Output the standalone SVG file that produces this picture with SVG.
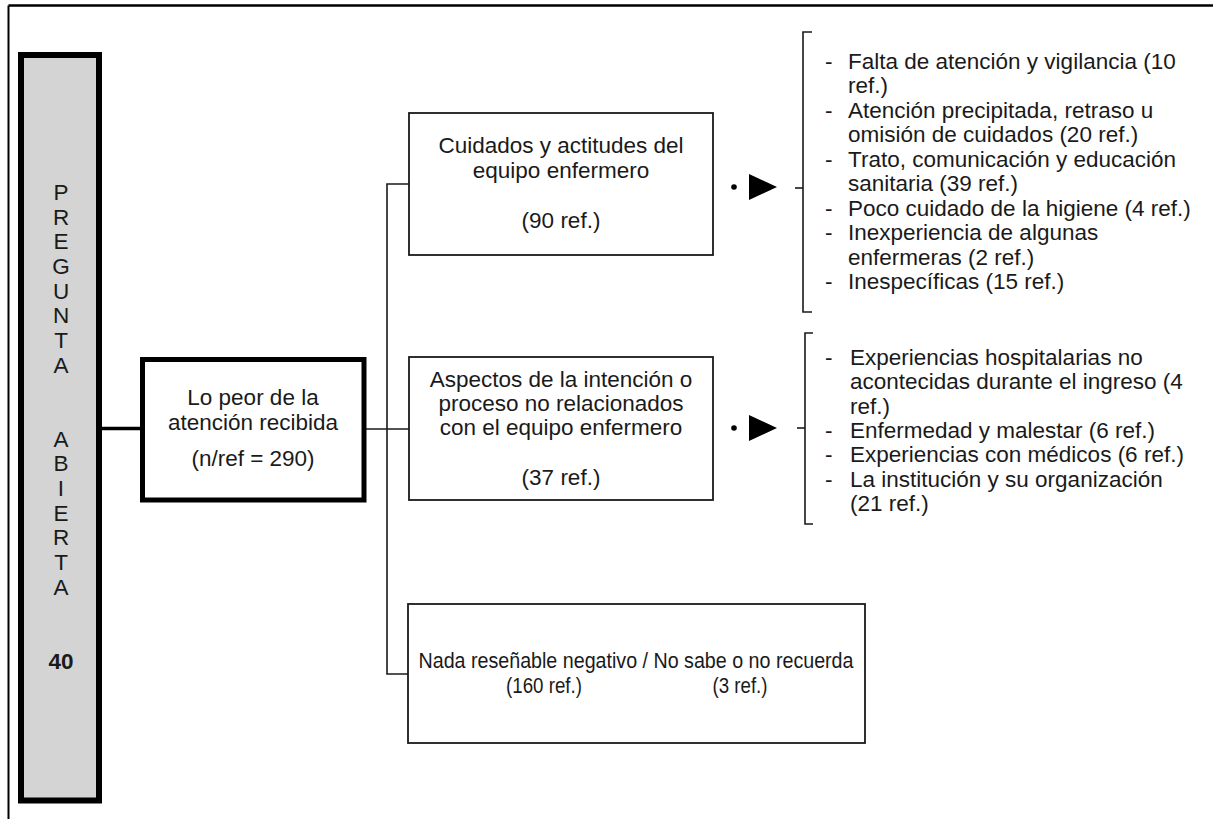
<svg xmlns="http://www.w3.org/2000/svg" width="1213" height="819" viewBox="0 0 1213 819">
  <defs>
    <style>
      .txt { font-family: "Liberation Sans", Arial, Helvetica, sans-serif; font-size: 22.5px; fill: #1a1a1a; }
      .mid { text-anchor: middle; }
      .thin { fill: none; stroke: #1a1a1a; stroke-width: 1.6; }
      .box { fill: #ffffff; stroke: #1a1a1a; stroke-width: 1.8; }
      .heavy { fill: #ffffff; stroke: #000000; stroke-width: 5; }
      .arrowhead { fill: #000000; }
    </style>
  </defs>

  <rect x="0" y="0" width="1213" height="819" fill="#ffffff"/>

  <!-- page frame (top and left rule) -->
  <g id="frame">
    <line x1="8.5" y1="5.5" x2="1213" y2="5.5" stroke="#000" stroke-width="2.5"/>
    <line x1="8.5" y1="5.5" x2="8.5" y2="819" stroke="#000" stroke-width="2"/>
  </g>

  <!-- connectors -->
  <g id="connectors">
    <line x1="102" y1="428.5" x2="142" y2="428.5" stroke="#000" stroke-width="3.5"/>
    <line class="thin" x1="365" y1="429" x2="409" y2="429"/>
    <polyline class="thin" points="409,184 387,184 387,674 409,674"/>
    <!-- pointers towards the detail lists -->
    <circle cx="734" cy="187" r="2.8" fill="#000"/>
    <polygon class="arrowhead" points="749,174 777,187 749,200"/>
    <circle cx="734" cy="428" r="2.8" fill="#000"/>
    <polygon class="arrowhead" points="749,415 777,428 749,441"/>
  </g>

  <!-- vertical question label -->
  <g id="pregunta">
    <rect x="21" y="55" width="78" height="745.5" fill="#d4d4d4" stroke="#000" stroke-width="6"/>
    <g class="txt mid" font-size="21.5">
      <text x="61" y="200">P</text>
      <text x="61" y="224.7">R</text>
      <text x="61" y="249.4">E</text>
      <text x="61" y="274">G</text>
      <text x="61" y="298.7">U</text>
      <text x="61" y="323.4">N</text>
      <text x="61" y="348">T</text>
      <text x="61" y="372.7">A</text>
      <text x="61" y="446.6">A</text>
      <text x="61" y="471.3">B</text>
      <text x="61" y="496">I</text>
      <text x="61" y="520.6">E</text>
      <text x="61" y="545.3">R</text>
      <text x="61" y="570">T</text>
      <text x="61" y="594.6">A</text>
      <text x="61" y="669" font-weight="bold">40</text>
    </g>
  </g>

  <!-- root node -->
  <g id="lo-peor">
    <rect class="heavy" x="142.5" y="359.5" width="221.5" height="140.5"/>
    <text class="txt mid" x="253" y="405">Lo peor de la</text>
    <text class="txt mid" x="253" y="430">atención recibida</text>
    <text class="txt mid" x="253" y="466">(n/ref = 290)</text>
  </g>

  <!-- category nodes -->
  <g id="cuidados">
    <rect class="box" x="409" y="113" width="304" height="142"/>
    <text class="txt mid" x="561" y="153">Cuidados y actitudes del</text>
    <text class="txt mid" x="561" y="178">equipo enfermero</text>
    <text class="txt mid" x="561" y="228">(90 ref.)</text>
  </g>

  <g id="aspectos">
    <rect class="box" x="409" y="357" width="304" height="143"/>
    <text class="txt mid" x="561" y="387">Aspectos de la intención o</text>
    <text class="txt mid" x="561" y="411">proceso no relacionados</text>
    <text class="txt mid" x="561" y="435">con el equipo enfermero</text>
    <text class="txt mid" x="561" y="485">(37 ref.)</text>
  </g>

  <g id="nada">
    <rect class="box" x="408" y="604" width="457" height="139"/>
    <text class="txt mid" x="636" y="668" textLength="435" lengthAdjust="spacingAndGlyphs">Nada reseñable negativo / No sabe o no recuerda</text>
    <text class="txt mid" x="544" y="693" textLength="76" lengthAdjust="spacingAndGlyphs">(160 ref.)</text>
    <text class="txt mid" x="740" y="693" textLength="55" lengthAdjust="spacingAndGlyphs">(3 ref.)</text>
  </g>

  <!-- detail list for nursing care -->
  <g id="lista-cuidados">
    <polyline class="thin" points="812,32 803,32 803,312 812,312"/>
    <line class="thin" x1="795" y1="188" x2="803" y2="188"/>
    <g class="txt">
      <text x="825" y="68.5">-</text>
      <text x="848" y="68.5">Falta de atención y vigilancia (10</text>
      <text x="848" y="93">ref.)</text>
      <text x="825" y="117.5">-</text>
      <text x="848" y="117.5">Atención precipitada, retraso u</text>
      <text x="848" y="142">omisión de cuidados (20 ref.)</text>
      <text x="825" y="166.5">-</text>
      <text x="848" y="166.5">Trato, comunicación y educación</text>
      <text x="848" y="191">sanitaria (39 ref.)</text>
      <text x="825" y="215.5">-</text>
      <text x="848" y="215.5">Poco cuidado de la higiene (4 ref.)</text>
      <text x="825" y="240">-</text>
      <text x="848" y="240">Inexperiencia de algunas</text>
      <text x="848" y="264.5">enfermeras (2 ref.)</text>
      <text x="825" y="289">-</text>
      <text x="848" y="289">Inespecíficas (15 ref.)</text>
    </g>
  </g>

  <!-- detail list for other aspects -->
  <g id="lista-aspectos">
    <polyline class="thin" points="813,333 805,333 805,524 813,524"/>
    <line class="thin" x1="797" y1="428" x2="805" y2="428"/>
    <g class="txt">
      <text x="825" y="365">-</text>
      <text x="850" y="365">Experiencias hospitalarias no</text>
      <text x="850" y="389.3">acontecidas durante el ingreso (4</text>
      <text x="850" y="413.6">ref.)</text>
      <text x="825" y="437.9">-</text>
      <text x="850" y="437.9">Enfermedad y malestar (6 ref.)</text>
      <text x="825" y="462.2">-</text>
      <text x="850" y="462.2">Experiencias con médicos (6 ref.)</text>
      <text x="825" y="486.5">-</text>
      <text x="850" y="486.5">La institución y su organización</text>
      <text x="850" y="510.8">(21 ref.)</text>
    </g>
  </g>
</svg>
